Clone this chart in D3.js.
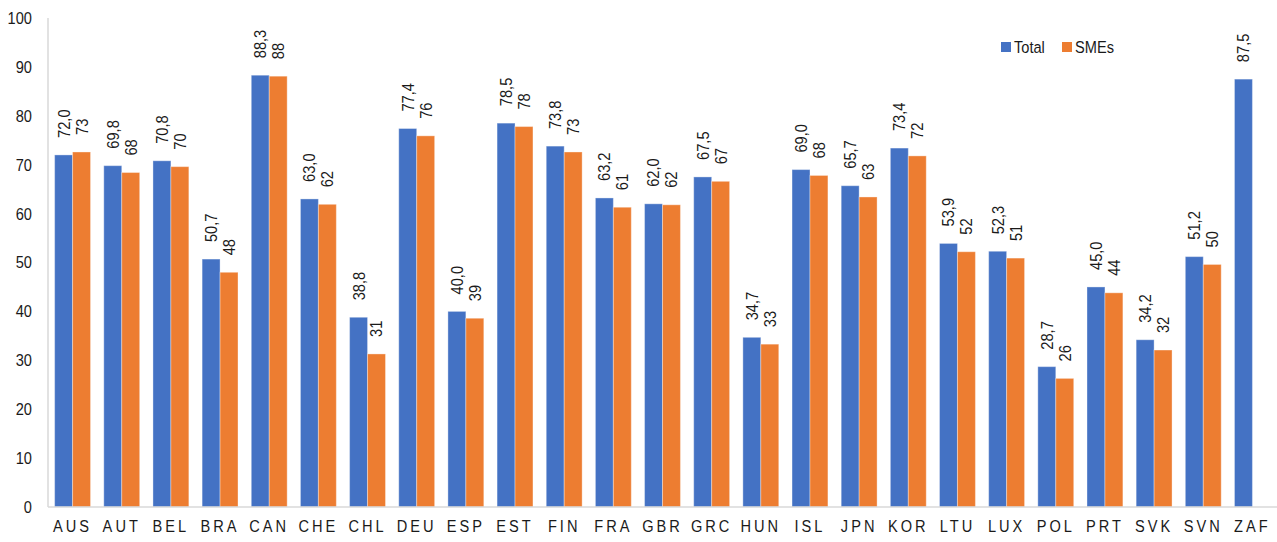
<!DOCTYPE html>
<html>
<head>
<meta charset="utf-8">
<script src="https://cdn.jsdelivr.net/npm/d3@7"></script>
<style>
  html, body { margin: 0; padding: 0; background: #fff; }
  svg { display: block; font-family: "Liberation Sans", Arial, sans-serif; }
</style>
</head>
<body>
<svg id="chart" width="1277" height="542"></svg>
<script>
// Country codes along the x axis
const categories = ["AUS","AUT","BEL","BRA","CAN","CHE","CHL","DEU","ESP","EST","FIN","FRA","GBR","GRC","HUN","ISL","JPN","KOR","LTU","LUX","POL","PRT","SVK","SVN","ZAF"];
// Share of all enterprises (%)
const totalValues = [72.0,69.8,70.8,50.7,88.3,63.0,38.8,77.4,40.0,78.5,73.8,63.2,62.0,67.5,34.7,69.0,65.7,73.4,53.9,52.3,28.7,45.0,34.2,51.2,87.5];
// Share of SMEs (%), no figure for ZAF
const smeValues = [72.6,68.4,69.6,48.0,88.1,61.9,31.3,75.9,38.6,77.8,72.6,61.3,61.8,66.6,33.3,67.8,63.4,71.8,52.2,50.9,26.3,43.8,32.1,49.6,null];
const seriesNames = ["Total","SMEs"];
const seriesColors = ["#4472C4","#ED7D31"];
const yTicks = [0,10,20,30,40,50,60,70,80,90,100];

const svg = d3.select("#chart");
const margin = {left: 48, right: 0, top: 18, bottom: 35};
const W = 1277, H = 542;
const FS = 17;          // base font size
const NARROW = 0.86;    // horizontal squeeze for a condensed look
const ink = "#1a1a1a";

const x = d3.scaleBand().domain(categories)
  .range([margin.left, W - margin.right])
  .paddingInner(0.27).paddingOuter(0.135);
const xs = d3.scaleBand().domain(seriesNames).range([0, x.bandwidth()]);
const y = d3.scaleLinear().domain([0, 100]).range([H - margin.bottom, margin.top]);

const locale = d3.formatLocale({decimal: ",", thousands: ".", grouping: [3], currency: ["", ""]});
const fmtTotal = locale.format(".1f");
const fmtSme = locale.format(".0f");

const rows = categories.map((c, i) => ({
  cat: c,
  vals: [
    {key: "Total", v: totalValues[i], fmt: fmtTotal},
    {key: "SMEs", v: smeValues[i], fmt: fmtSme}
  ].filter(d => d.v != null)
}));

// Vertical axis line
svg.append("line")
  .attr("x1", margin.left).attr("x2", margin.left)
  .attr("y1", y(100)).attr("y2", y(0))
  .attr("stroke", "#d9d9d9").attr("stroke-width", 1.5);

// Y tick labels
const yAxis = d3.axisLeft(y).tickValues(yTicks).tickSize(0).tickPadding(0);
const gy = svg.append("g").attr("transform", `translate(${margin.left - 16},0)`).call(yAxis);
gy.select(".domain").remove();
gy.selectAll("text")
  .attr("x", 0)
  .attr("transform", `scale(${NARROW},1)`)
  .attr("font-size", FS).attr("fill", ink)
  .attr("font-family", "'Liberation Sans', Arial, sans-serif");

// Bars
const groups = svg.append("g").selectAll("g").data(rows).join("g")
  .attr("transform", d => `translate(${x(d.cat)},0)`);

groups.selectAll("rect").data(d => d.vals).join("rect")
  .attr("x", d => xs(d.key))
  .attr("width", xs.bandwidth())
  .attr("y", d => y(d.v))
  .attr("height", d => y(0) - y(d.v))
  .attr("fill", d => seriesColors[seriesNames.indexOf(d.key)])
  .attr("stroke", "rgba(255,255,255,0.35)")
  .attr("stroke-width", 1);

// Value labels, rotated above each bar
groups.selectAll("text").data(d => d.vals).join("text")
  .attr("transform", d => `translate(${xs(d.key) + xs.bandwidth() / 2},${y(d.v) - 17}) rotate(-90) scale(${NARROW},1)`)
  .attr("text-anchor", "start")
  .attr("dy", "0.35em")
  .attr("font-size", FS)
  .attr("fill", ink)
  .text(d => d.fmt(d.v));

// X axis baseline and category labels
const xAxis = d3.axisBottom(x).tickSize(0).tickPadding(13);
const gx = svg.append("g").attr("transform", `translate(0,${y(0)})`).call(xAxis);
gx.select(".domain").attr("stroke", "#d9d9d9").attr("stroke-width", 1.5)
  .attr("d", `M${margin.left},0H${W}`);
gx.selectAll("text")
  .attr("transform", `scale(${NARROW},1)`)
  .attr("font-size", FS).attr("fill", ink)
  .attr("letter-spacing", "3.5px")
  .attr("font-family", "'Liberation Sans', Arial, sans-serif");

// Legend
const legend = svg.append("g").attr("transform", "translate(1001,47)");
const legendOffsets = [0, 61];
seriesNames.forEach((name, i) => {
  const g = legend.append("g").attr("transform", `translate(${legendOffsets[i]},0)`);
  g.append("rect").attr("x", 0).attr("y", -5).attr("width", 10).attr("height", 10)
    .attr("fill", seriesColors[i]);
  g.append("text")
    .attr("transform", `translate(13,0) scale(${NARROW},1)`)
    .attr("dy", "0.35em").attr("font-size", FS)
    .attr("fill", ink).text(name);
});
</script>
</body>
</html>
